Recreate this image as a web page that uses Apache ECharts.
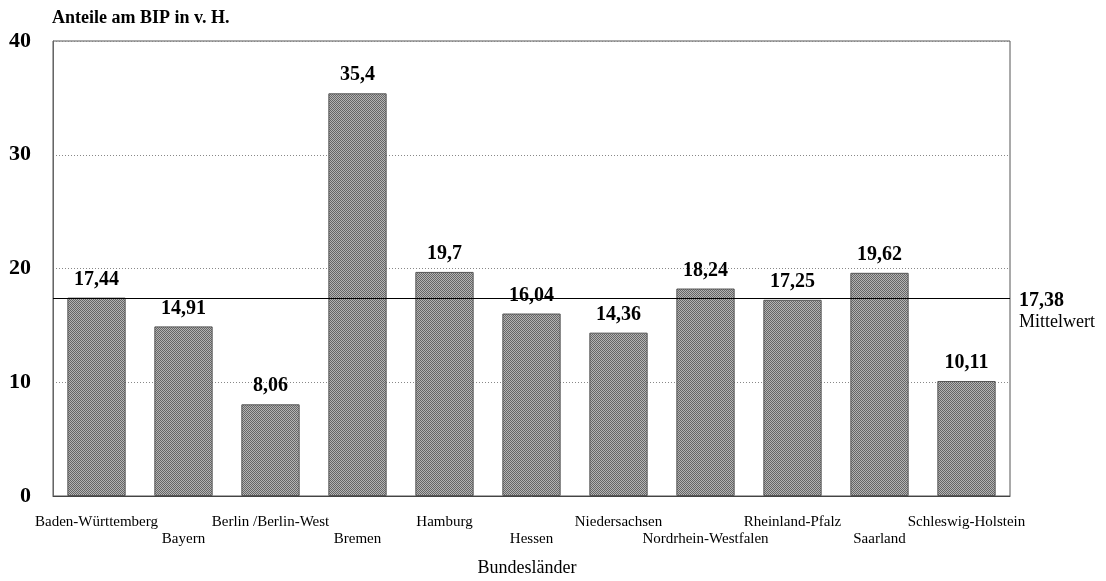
<!DOCTYPE html>
<html>
<head>
<meta charset="utf-8">
<script src="https://cdn.jsdelivr.net/npm/echarts@6/dist/echarts.min.js"></script>
<style>
  html, body { margin: 0; padding: 0; background: #fff; }
  #chart { width: 1106px; height: 581px; }
</style>
</head>
<body>
<div id="chart"></div>
<script>
// Anteile am BIP je Bundesland (in v. H.)
const categories = [
  'Baden-Württemberg', 'Bayern', 'Berlin /Berlin-West', 'Bremen', 'Hamburg',
  'Hessen', 'Niedersachsen', 'Nordrhein-Westfalen', 'Rheinland-Pfalz',
  'Saarland', 'Schleswig-Holstein'
];
const values = [17.44, 14.91, 8.06, 35.4, 19.7, 16.04, 14.36, 18.24, 17.25, 19.62, 10.11];
const meanValue = 17.38;
const yTicks = [0, 10, 20, 30, 40];

const deNum = v => String(v).replace('.', ',');
const serif = '"Liberation Serif", "DejaVu Serif", serif';

// Dithered grey fill for the bars
function ditherPattern() {
  const c = document.createElement('canvas');
  c.width = 4; c.height = 4;
  const ctx = c.getContext('2d');
  for (let y = 0; y < 4; y++) {
    for (let x = 0; x < 4; x++) {
      ctx.fillStyle = (x + y) % 2 === 0 ? '#666666' : '#b4b4b4';
      ctx.fillRect(x, y, 1, 1);
    }
  }
  return c;
}

const chart = echarts.init(document.getElementById('chart'), null, { renderer: 'canvas' });

chart.setOption({
  animation: false,
  backgroundColor: '#fff',
  grid: {
    left: 53, right: 96, top: 41, bottom: 85,
    show: true, borderColor: '#555', borderWidth: 1, backgroundColor: 'transparent'
  },
  graphic: [
    {
      type: 'text', x: 52, y: 18,
      style: {
        text: 'Anteile am BIP in v. H.', font: 'bold 18px ' + serif, fill: '#000',
        textAlign: 'left', textVerticalAlign: 'middle'
      }
    },
    {
      type: 'text', x: 527, y: 568,
      style: {
        text: 'Bundesländer', font: '18px ' + serif, fill: '#000',
        textAlign: 'center', textVerticalAlign: 'middle'
      }
    }
  ],
  xAxis: {
    type: 'category',
    data: categories,
    axisLine: { show: true, lineStyle: { color: '#444', width: 1 } },
    axisTick: { show: false },
    axisLabel: {
      interval: 0,
      margin: 18,
      color: '#000',
      fontFamily: serif,
      fontSize: 15,
      lineHeight: 17,
      verticalAlign: 'top',
      formatter: (v, i) => (i % 2 === 1 ? '\n' + v : v)
    }
  },
  yAxis: {
    type: 'value',
    min: yTicks[0], max: yTicks[yTicks.length - 1], interval: 10,
    axisLine: { show: true, lineStyle: { color: '#666' } },
    axisTick: { show: false },
    axisLabel: {
      margin: 22, color: '#000', fontFamily: serif, fontSize: 22, fontWeight: 'bold'
    },
    splitLine: { show: true, lineStyle: { color: '#888', type: [1, 2], width: 1 } }
  },
  series: [
    {
      type: 'bar',
      data: values,
      barWidth: '67%',
      itemStyle: {
        color: { image: ditherPattern(), repetition: 'repeat' },
        borderColor: '#555',
        borderWidth: 1
      },
      label: {
        show: true, position: 'top', distance: 8,
        color: '#000', fontFamily: serif, fontSize: 20, fontWeight: 'bold',
        formatter: p => deNum(p.value)
      },
      markLine: {
        silent: true,
        symbol: 'none',
        lineStyle: { color: '#000', type: 'solid', width: 1 },
        data: [{ yAxis: meanValue }],
        label: {
          show: true, position: 'end', distance: 9,
          padding: [28, 0, 0, 0],
          formatter: () => '{v|' + deNum(meanValue) + '}\n{t|Mittelwert}',
          rich: {
            v: { fontFamily: serif, fontSize: 20, fontWeight: 'bold', color: '#000', lineHeight: 20, align: 'left' },
            t: { fontFamily: serif, fontSize: 18, color: '#000', lineHeight: 22, align: 'left' }
          }
        }
      }
    }
  ]
});
</script>
</body>
</html>
